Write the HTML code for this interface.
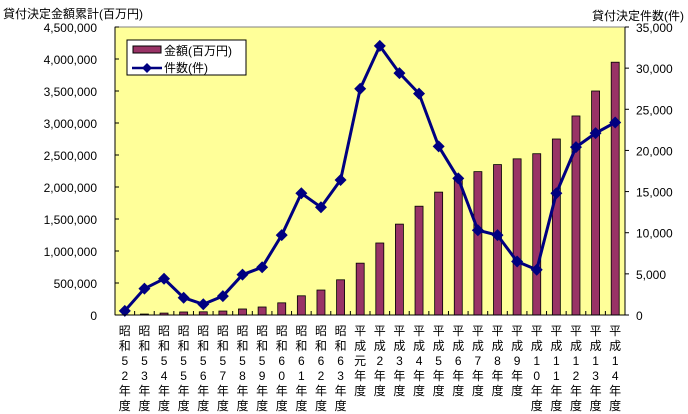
<!DOCTYPE html>
<html><head><meta charset="utf-8"><style>
body{margin:0;background:#fff;}
svg{display:block;font-family:"Liberation Sans","Noto Sans CJK JP",sans-serif;}
</style></head><body>
<svg id="c" width="688" height="414">
<text x="3" y="18" font-size="12">貸付決定金額累計(百万円)</text>
<text x="684" y="20" font-size="12" text-anchor="end">貸付決定件数(件)</text>
<rect x="115" y="27" width="510" height="288" fill="#ffff99" stroke="#808080"/>
<g id="bars"></g><g id="line"></g><g id="axes"></g>
<g>
<rect x="127" y="40" width="119" height="35" fill="#fff" stroke="#000"/>
<rect x="133" y="46" width="28" height="7" fill="#993366" stroke="#000"/>
<text x="164" y="55" font-size="12">金額(百万円)</text>
<line x1="132" y1="68" x2="162" y2="68" stroke="#000080" stroke-width="2.5"/>
<path d="M147 63 L152 68 L147 73 L142 68Z" fill="#000080"/>
<text x="164" y="72" font-size="12">件数(件)</text>
</g>
</svg>
<script>
const categories=["昭和52年度","昭和53年度","昭和54年度","昭和55年度","昭和56年度","昭和57年度","昭和58年度","昭和59年度","昭和60年度","昭和61年度","昭和62年度","昭和63年度","平成元年度","平成2年度","平成3年度","平成4年度","平成5年度","平成6年度","平成7年度","平成8年度","平成9年度","平成10年度","平成11年度","平成12年度","平成13年度","平成14年度"];
const amounts=[3000,15000,30000,47000,50000,62000,94000,125000,190000,300000,390000,550000,810000,1125000,1420000,1700000,1920000,2100000,2240000,2350000,2440000,2520000,2750000,3110000,3500000,3950000];
const counts=[500,3200,4400,2100,1300,2300,4900,5800,9700,14800,13100,16400,27500,32700,29400,26900,20500,16600,10300,9700,6500,5500,14800,20400,22100,23400];
const leftTicks=[0,500000,1000000,1500000,2000000,2500000,3000000,3500000,4000000,4500000];
const rightTicks=[0,5000,10000,15000,20000,25000,30000,35000];
const NS="http://www.w3.org/2000/svg";
const X0=115,X1=625,Y0=315,Y1=27;
const bw=(X1-X0)/categories.length;
const xc=i=>X0+bw*(i+0.5);
const yL=v=>Y0-(v/4500000)*(Y0-Y1);
const yR=v=>Y0-(v/35000)*(Y0-Y1);
function mk(t,a,p){const e=document.createElementNS(NS,t);for(const k in a)e.setAttribute(k,a[k]);p.appendChild(e);return e;}
const bars=document.getElementById('bars'),line=document.getElementById('line'),axes=document.getElementById('axes');
amounts.forEach((v,i)=>{const r=mk('rect',{x:xc(i)-4,y:yL(v),width:8,height:Y0-yL(v),fill:'#993366',stroke:'#000','stroke-width':0.8},bars);

});
mk('polyline',{points:counts.map((v,i)=>xc(i)+','+yR(v)).join(' '),fill:'none',stroke:'#000080','stroke-width':3},line);
counts.forEach((v,i)=>{const x=xc(i),y=yR(v);const p=mk('path',{d:`M${x} ${y-6}L${x+6} ${y}L${x} ${y+6}L${x-6} ${y}Z`,fill:'#000080'},line);

});
mk('line',{x1:X0,y1:Y1,x2:X0,y2:Y0,stroke:'#000'},axes);
mk('line',{x1:X1,y1:Y1,x2:X1,y2:Y0,stroke:'#000'},axes);
mk('line',{x1:X0,y1:Y0,x2:X1,y2:Y0,stroke:'#000'},axes);
leftTicks.forEach(v=>{const y=yL(v);mk('line',{x1:X0,y1:y,x2:X0+4,y2:y,stroke:'#000'},axes);
const t=mk('text',{x:97,y:y+5,'font-size':12,'text-anchor':'end'},axes);t.textContent=v.toLocaleString('en-US');

});
rightTicks.forEach(v=>{const y=yR(v);mk('line',{x1:X1,y1:y,x2:X1+4,y2:y,stroke:'#000'},axes);
const t=mk('text',{x:636,y:y+5,'font-size':12},axes);t.textContent=v.toLocaleString('en-US');

});
categories.forEach((c,i)=>{mk('line',{x1:X0+bw*(i+1),y1:Y0,x2:X0+bw*(i+1),y2:Y0-4,stroke:'#000'},axes);
const g=mk('g',{},axes);


[...c].forEach((ch,j)=>{const t=mk('text',{x:xc(i),y:335+j*15,'font-size':12,'text-anchor':'middle'},g);t.textContent=ch;});});
</script>
</body></html>
